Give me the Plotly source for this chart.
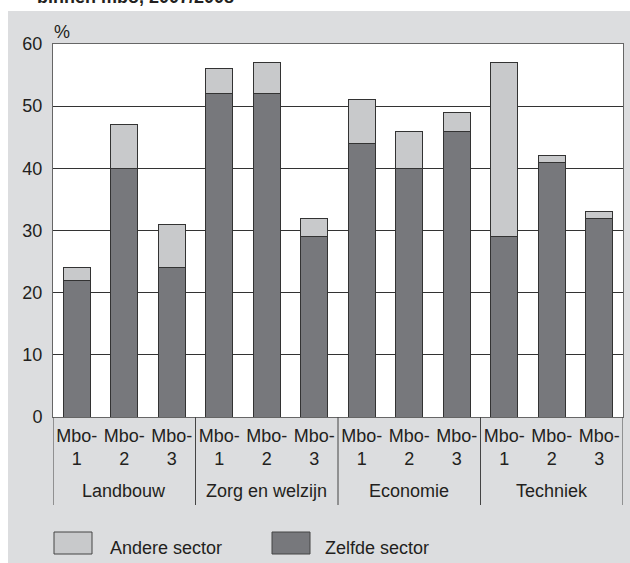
import plotly.graph_objects as go

groups = ["Landbouw", "Zorg en welzijn", "Economie", "Techniek"]
levels = ["Mbo-1", "Mbo-2", "Mbo-3"]
level_labels = ["Mbo-<br>1", "Mbo-<br>2", "Mbo-<br>3"]
zelfde = [22, 40, 24, 52, 52, 29, 44, 40, 46, 29, 41, 32]
andere = [2, 7, 7, 4, 5, 3, 7, 6, 3, 28, 1, 1]
y_ticks = [0, 10, 20, 30, 40, 50, 60]
series_names = ["Andere sector", "Zelfde sector"]
title_text = "binnen mbo, 2007/2008"

cats = [f"{g} {l}" for g in groups for l in levels]
ticktext = [lab for g in groups for lab in level_labels]

DARK = "#77787c"
LIGHT = "#c8c9cb"
EDGE = "#333333"
BG = "#dcdddf"
FONT = "Liberation Sans, Arial, sans-serif"
TXT = "#231f20"

W, H = 630, 563
ML, MR, MT, MB = 53, 7, 44, 146
PW = W - ML - MR
PH = H - MT - MB


def px(x):
    return (x - ML) / PW


def py(y):
    return (H - MB - y) / PH


fig = go.Figure()
fig.add_trace(go.Bar(x=cats, y=zelfde, name=series_names[1], marker=dict(color=DARK, line=dict(color=EDGE, width=1)), showlegend=False))
fig.add_trace(go.Bar(x=cats, y=andere, name=series_names[0], marker=dict(color=LIGHT, line=dict(color=EDGE, width=1)), showlegend=False))

shapes = []
# white strips outside the grey panel (top and left)
shapes.append(dict(type="rect", xref="paper", yref="paper", x0=px(-10), x1=px(640), y0=py(11), y1=py(-10),
                   fillcolor="white", line=dict(width=0), layer="below"))
shapes.append(dict(type="rect", xref="paper", yref="paper", x0=px(-10), x1=px(8), y0=py(575), y1=py(-10),
                   fillcolor="white", line=dict(width=0), layer="below"))
# group dividers
for i in range(len(groups) + 1):
    shapes.append(dict(type="line", xref="x", yref="paper", x0=i * 3 - 0.5, x1=i * 3 - 0.5,
                       y0=0, y1=py(505), line=dict(color="#444444", width=1)))
# legend boxes
shapes.append(dict(type="rect", xref="paper", yref="paper", x0=px(54), x1=px(92), y0=py(554), y1=py(532),
                   fillcolor=LIGHT, line=dict(color="#444444", width=1)))
shapes.append(dict(type="rect", xref="paper", yref="paper", x0=px(272), x1=px(310), y0=py(554), y1=py(532),
                   fillcolor=DARK, line=dict(color="#444444", width=1)))

annotations = []
for gi, g in enumerate(groups):
    annotations.append(dict(x=cats[gi * 3 + 1], y=py(491), xref="x", yref="paper", text=g, showarrow=False,
                            xanchor="center", yanchor="middle", font=dict(size=18, color=TXT, family=FONT)))
annotations.append(dict(x=px(108), y=py(548), xref="paper", yref="paper", text=series_names[0], showarrow=False,
                        xanchor="left", yanchor="middle", font=dict(size=18, color=TXT, family=FONT)))
annotations.append(dict(x=px(323), y=py(548), xref="paper", yref="paper", text=series_names[1], showarrow=False,
                        xanchor="left", yanchor="middle", font=dict(size=18, color=TXT, family=FONT)))
annotations.append(dict(x=px(52), y=py(32), xref="paper", yref="paper", text="%", showarrow=False,
                        xanchor="left", yanchor="middle", font=dict(size=18, color=TXT, family=FONT)))
annotations.append(dict(x=px(35), y=py(-3.5), xref="paper", yref="paper", text="<b>" + title_text + "</b>", showarrow=False,
                        xanchor="left", yanchor="middle", font=dict(size=18, color=TXT, family=FONT)))

fig.update_layout(
    width=W, height=H,
    margin=dict(l=ML, r=MR, t=MT, b=MB, pad=0),
    paper_bgcolor=BG,
    plot_bgcolor="white",
    barmode="stack",
    bargap=0.44,
    font=dict(family=FONT, size=18, color=TXT),
    shapes=shapes,
    annotations=annotations,
    xaxis=dict(type="category", categoryorder="array", categoryarray=cats, tickvals=cats, ticktext=ticktext,
               range=[-0.5, len(cats) - 0.5], showgrid=False, ticks="", showline=True, linecolor="#666666",
               linewidth=1, mirror=True, tickfont=dict(size=18, color=TXT), ticklabelstandoff=2),
    yaxis=dict(range=[0, 60], tickvals=y_ticks, showgrid=True, gridcolor="#333333", gridwidth=1,
               zeroline=False, ticks="", showline=True, linecolor="#666666", linewidth=1, mirror=True,
               tickfont=dict(size=18, color=TXT), ticklabelstandoff=6),
)

fig.write_html("out.html", config={"displayModeBar": False},
               post_script="document.body.style.margin='0';document.body.style.overflow='hidden';")
